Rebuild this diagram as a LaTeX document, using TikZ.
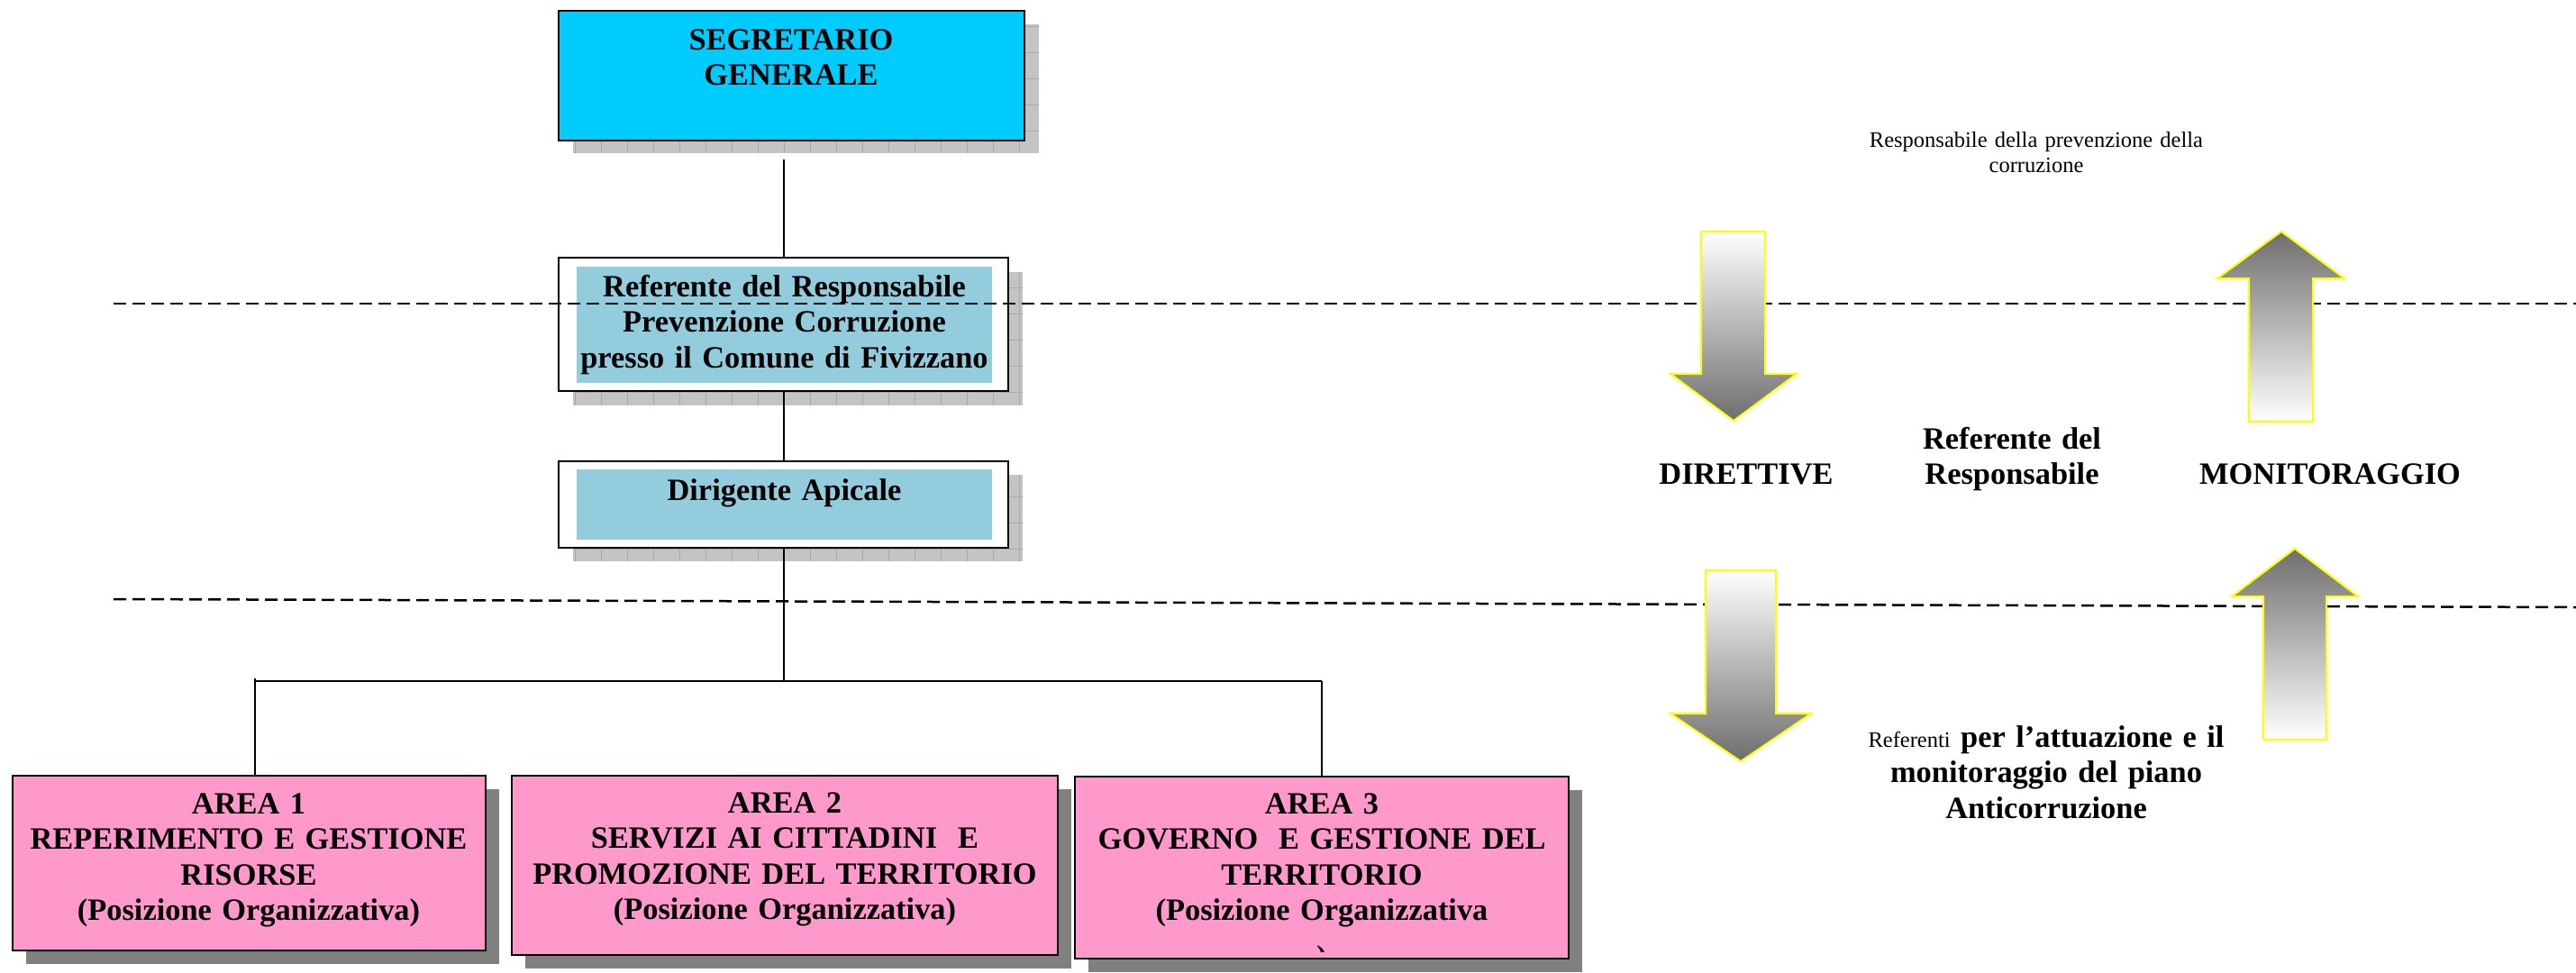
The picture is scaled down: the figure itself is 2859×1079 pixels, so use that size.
\documentclass[tikz,border=0pt]{standalone}
\usepackage{fontspec}
\setmainfont{Liberation Serif}
\definecolor{segcyan}{HTML}{00CCFF}
\definecolor{reflblue}{HTML}{93CDDD}
\definecolor{areapink}{HTML}{FF99CC}
\definecolor{shadowgray}{HTML}{C4C4C4}
\definecolor{gridgray}{HTML}{A8A8A8}
\definecolor{darkshadow}{HTML}{808080}
\definecolor{arrowgray}{HTML}{6E6E6E}
\definecolor{arrowyellow}{HTML}{FFFF00}
\newcommand\bigbf{\fontsize{34.4pt}{39.5pt}\selectfont\bfseries}
\newcommand\smallrm{\fontsize{24.5pt}{28pt}\selectfont\mdseries}
\newcommand\gridshadow[4]{%
  \fill[shadowgray] (#1,#2) rectangle (#3,#4);
  \begin{scope}
    \clip (#1,#2) rectangle (#3,#4);
    \draw[gridgray, line width=1pt, step=29pt] (#1,#2) grid (#3,#4);
  \end{scope}}
\begin{document}
\begin{tikzpicture}[x=1pt,y=-1pt,
  boxline/.style={draw=black, line width=2pt, inner sep=0pt, outer sep=0pt},
  innerfill/.style={fill=reflblue, inner sep=0pt, outer sep=0pt},
  conn/.style={draw=black, line width=2pt},
  bigtext/.style={font=\bigbf, align=center, inner sep=0pt, anchor=base},
  sidetext/.style={font=\smallrm, align=center, inner sep=0pt, anchor=base},
  sepline/.style={draw=black, line width=2.5pt, dash pattern=on 14pt off 7pt},
  arrowdown/.style={draw=arrowyellow, line width=2pt, top color=white, bottom color=arrowgray},
  arrowup/.style={draw=arrowyellow, line width=2pt, top color=arrowgray, bottom color=white},
]
\useasboundingbox (0,0) rectangle (2859,1079);
\fill[white] (0,0) rectangle (2859,1079);

% ---------- shadows ----------
\gridshadow{636}{27}{1153}{170}
\gridshadow{636}{302}{1135}{450}
\gridshadow{636}{527}{1135}{623}
\fill[darkshadow] (29,876) rectangle (554,1070);
\fill[darkshadow] (583,876) rectangle (1189,1075);
\fill[darkshadow] (1208,877) rectangle (1756,1079);

% ---------- boxes ----------
\node[boxline, fill=segcyan, minimum width=517pt, minimum height=144pt] (seg) at (878.5,84) {};
\node[boxline, fill=white, minimum width=499pt, minimum height=148pt] (ref) at (869.5,360) {};
\node[innerfill, minimum width=461pt, minimum height=129pt] (refin) at (870.5,360.5) {};
\node[boxline, fill=white, minimum width=499pt, minimum height=96pt] (diri) at (869.5,560) {};
\node[innerfill, minimum width=461pt, minimum height=78pt] (diriin) at (870.5,560) {};
\node[boxline, fill=areapink, minimum width=525pt, minimum height=194pt] (area1) at (276.5,958) {};
\node[boxline, fill=areapink, minimum width=606pt, minimum height=199pt] (area2) at (871,960.5) {};
\node[boxline, fill=areapink, minimum width=548pt, minimum height=202pt] (area3) at (1467,963) {};

% ---------- box texts ----------
\node[bigtext, text width=500pt] (segtxt) at (878,55) {SEGRETARIO\\GENERALE};
\node[bigtext, text width=470pt] (reftxt) at (870.5,329) {Referente del Responsabile\\Prevenzione Corruzione\\presso il Comune di Fivizzano};
\node[bigtext, text width=460pt] (diritxt) at (870.5,555) {Dirigente Apicale};
\node[bigtext, text width=520pt] (a1txt) at (276,903) {AREA 1\\REPERIMENTO E GESTIONE\\RISORSE\\(Posizione Organizzativa)};
\node[bigtext, text width=600pt] (a2txt) at (871,902) {AREA 2\\SERVIZI AI CITTADINI\ \ E\\PROMOZIONE DEL TERRITORIO\\(Posizione Organizzativa)};
\node[bigtext, text width=540pt] (a3txt) at (1467,903) {AREA 3\\GOVERNO\ \ E GESTIONE DEL\\TERRITORIO\\(Posizione Organizzativa};
\begin{scope}
  \clip (1200,1000) rectangle (1735,1056);
  \node[bigtext] (a3par) at (1467,1073) {)};
\end{scope}

% ---------- connectors ----------
\coordinate (spine) at (870,177);
\coordinate (junction) at (870,756);
\coordinate (j1) at (283,756);
\coordinate (j1top) at (283,753);
\coordinate (j3) at (1467,756);
\draw[conn] (spine) -- (spine |- ref.north);
\draw[conn] (spine |- ref.south) -- (spine |- diri.north);
\draw[conn] (spine |- diri.south) -- (junction);
\draw[conn] (j1) -- (junction) -- (j3);
\draw[conn] (j1top) -- (j1top |- area1.north);
\draw[conn] (j3) -- (j3 |- area3.north);

% ---------- dashed separators ----------
\coordinate (d1a) at (126,337);
\coordinate (d1b) at (2859,337);
\coordinate (d2a) at (126,665);
\coordinate (d2b) at (2859,674);
\draw[sepline] (d1a) -- (d1b);
\draw[sepline] (d2a) -- (d2b);

% ---------- block arrows ----------
\path[arrowdown] (1888,257) -- (1959,257) -- (1959,415) -- (1994,415) -- (1924,467) -- (1854,415) -- (1888,415) -- cycle;
\path[arrowup] (2532,257) -- (2602,309) -- (2567,309) -- (2567,468) -- (2496,468) -- (2496,309) -- (2461,309) -- cycle;
\path[arrowdown] (1893,633) -- (1971,633) -- (1971,792) -- (2010,792) -- (1932,845) -- (1854,792) -- (1893,792) -- cycle;
\path[arrowup] (2547,609) -- (2617,662) -- (2582,662) -- (2582,821) -- (2512,821) -- (2512,662) -- (2477,662) -- cycle;

% ---------- side texts ----------
\node[sidetext, text width=420pt] (resp) at (2260,163) {Responsabile della prevenzione della\\corruzione};
\node[bigtext] (dirett) at (1938,537) {DIRETTIVE};
\node[bigtext, text width=260pt] (refdel) at (2233,498) {Referente del\\Responsabile};
\node[bigtext] (monit) at (2586,537) {MONITORAGGIO};
\node[bigtext, text width=440pt] (referenti) at (2271,829) {{\smallrm Referenti} per l’attuazione e il\\monitoraggio del piano\\Anticorruzione};
\end{tikzpicture}
\end{document}
